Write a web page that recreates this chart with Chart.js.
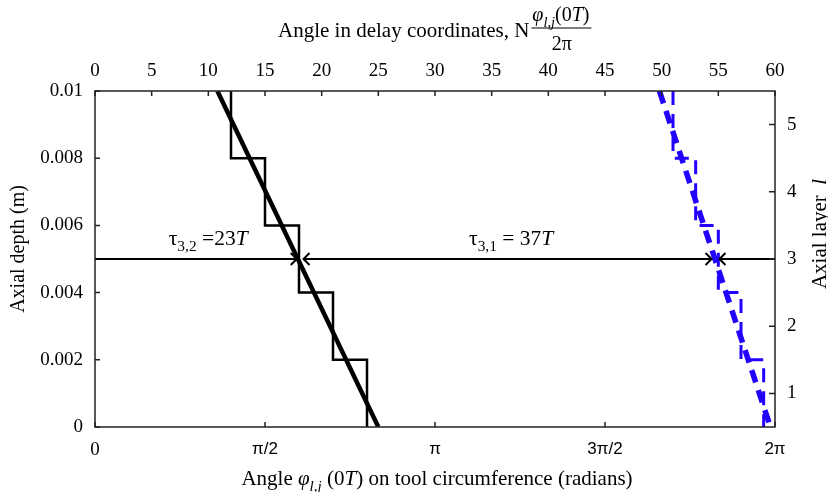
<!DOCTYPE html>
<html>
<head>
<meta charset="utf-8">
<script src="https://cdn.jsdelivr.net/npm/chart.js@4.4.1/dist/chart.umd.min.js"></script>
<style>
    html, body { margin: 0; padding: 0; background: #fff; }
    #wrap { width: 828px; height: 492px; }
</style>
</head>
<body>
<div id="wrap"><canvas id="chart" width="828" height="492"></canvas></div>
<script>
// ------------------------------------------------------------------
// Data
// ------------------------------------------------------------------

// layer boundaries, top to bottom (m)
const DEPTH_BREAKS = [0.01, 0.008, 0.006, 0.004, 0.002, 0];
// staircase angle per layer, delay coordinates
const STAIR_BLACK = [12, 15, 18, 21, 24];
const STAIR_BLUE = [51, 53, 55, 57, 59];
// straight fitted lines, ends at depth 0.01 and 0
const FIT_DEPTHS = [0.01, 0];
const FIT_BLACK = [10.8, 25.0];
const FIT_BLUE = [49.8, 59.6];

// delay arrows at layer 3
const ARROW_DEPTH = 0.005;
const ARROW_SEGMENTS = [[0, 17.8], [18.4, 54.4], [55.1, 60]];
const ARROW_TIPS = [17.8, 18.4, 54.4, 55.1];
const ARROW_DIRS = [1, -1, 1, -1];

const TOP_TICKS = [0, 5, 10, 15, 20, 25, 30, 35, 40, 45, 50, 55, 60];
const BOTTOM_TICKS = [0, Math.PI / 2, Math.PI, 3 * Math.PI / 2, 2 * Math.PI];
const BOTTOM_LABELS = ['0', 'π/2', 'π', '3π/2', '2π'];
const DEPTH_TICKS = [0, 0.002, 0.004, 0.006, 0.008, 0.01];
const LAYER_TICKS = [1, 2, 3, 4, 5];

const BLUE = '#2200ff';
const SERIF = '"Liberation Serif", "DejaVu Serif", serif';
const SANS = '"Liberation Sans", Arial, sans-serif';

// ------------------------------------------------------------------
// Helpers
// ------------------------------------------------------------------

function stair_points(stair) {
    const pts = [];
    stair.forEach((x, i) => {
        pts.push({ x, y: DEPTH_BREAKS[i] });
        pts.push({ x, y: DEPTH_BREAKS[i + 1] });
    });
    return pts;
}

function fit_points(xs) {
    return xs.map((x, i) => ({ x, y: FIT_DEPTHS[i] }));
}

function line_ds(data, color, width, dash) {
    return {
        data,
        borderColor: color,
        borderWidth: width,
        borderDash: dash || [],
        pointRadius: 0,
        fill: false,
        tension: 0,
        xAxisID: 'xTop',
        yAxisID: 'y',
    };
}

// draws pieces of text left to right: {t, italic, sub}
function draw_rich(ctx, x, y, parts, size) {
    let cx = x;
    parts.forEach(p => {
        const s = p.sub ? size * 0.72 : size;
        ctx.font = `${p.italic ? 'italic ' : ''}${s}px ${SERIF}`;
        ctx.fillText(p.t, cx, p.sub ? y + size * 0.28 : y);
        cx += ctx.measureText(p.t).width;
    });
    return cx - x;
}

function rich_width(ctx, parts, size) {
    let w = 0;
    parts.forEach(p => {
        const s = p.sub ? size * 0.72 : size;
        ctx.font = `${p.italic ? 'italic ' : ''}${s}px ${SERIF}`;
        w += ctx.measureText(p.t).width;
    });
    return w;
}

function fixed_size(prop, val) {
    return scale => { scale[prop] = val; };
}

// ------------------------------------------------------------------
// Plugin: frame, inward ticks, arrowheads, annotations and titles
// ------------------------------------------------------------------

const decorations = {
    id: 'decorations',
    afterDatasetsDraw(chart) {
        const ctx = chart.ctx;
        const a = chart.chartArea;
        const sx = chart.scales.xTop;
        const sb = chart.scales.x;
        const sy = chart.scales.y;
        const sl = chart.scales.yLayer;

        ctx.save();
        ctx.strokeStyle = '#222';
        ctx.lineWidth = 1.5;
        ctx.strokeRect(a.left, a.top, a.right - a.left, a.bottom - a.top);

        // inward tick marks
        ctx.beginPath();
        TOP_TICKS.forEach(v => {
            const px = sx.getPixelForValue(v);
            ctx.moveTo(px, a.top); ctx.lineTo(px, a.top + 5);
        });
        BOTTOM_TICKS.forEach(v => {
            const px = sb.getPixelForValue(v);
            ctx.moveTo(px, a.bottom); ctx.lineTo(px, a.bottom - 5);
        });
        DEPTH_TICKS.forEach(v => {
            const py = sy.getPixelForValue(v);
            ctx.moveTo(a.left, py); ctx.lineTo(a.left + 5, py);
        });
        LAYER_TICKS.forEach(v => {
            const py = sl.getPixelForValue(v);
            ctx.moveTo(a.right, py); ctx.lineTo(a.right - 6, py);
        });
        ctx.stroke();

        // arrow heads
        const ay = sy.getPixelForValue(ARROW_DEPTH);
        ctx.strokeStyle = '#000';
        ctx.lineWidth = 2;
        ARROW_TIPS.forEach((v, i) => {
            const px = sx.getPixelForValue(v);
            const d = ARROW_DIRS[i];
            ctx.beginPath();
            ctx.moveTo(px - d * 6, ay - 6);
            ctx.lineTo(px, ay);
            ctx.lineTo(px - d * 6, ay + 6);
            ctx.stroke();
        });

        // delay labels
        ctx.fillStyle = '#000';
        ctx.textBaseline = 'alphabetic';
        ctx.textAlign = 'left';
        draw_rich(ctx, sx.getPixelForValue(6.5), ay - 14, [
            { t: 'τ' }, { t: '3,2', sub: true }, { t: ' =23' }, { t: 'T', italic: true },
        ], 21.5);
        draw_rich(ctx, sx.getPixelForValue(33), ay - 14, [
            { t: 'τ' }, { t: '3,1', sub: true }, { t: ' = 37' }, { t: 'T', italic: true },
        ], 21.5);

        // top title with fraction
        const lead = [{ t: 'Angle in delay coordinates, N' }];
        const num = [{ t: 'φ', italic: true }, { t: 'l,j', italic: true, sub: true }, { t: '(0' }, { t: 'T', italic: true }, { t: ')' }];
        const wl = rich_width(ctx, lead, 21);
        const wn = rich_width(ctx, num, 20);
        const x0 = a.left + 183;
        draw_rich(ctx, x0, 37, lead, 21);
        const fx = x0 + wl + 2;
        draw_rich(ctx, fx + 1, 21, num, 20);
        ctx.lineWidth = 1.2;
        ctx.beginPath();
        ctx.moveTo(fx, 28); ctx.lineTo(fx + wn + 3, 28);
        ctx.stroke();
        ctx.font = `20px ${SERIF}`;
        ctx.textAlign = 'center';
        ctx.fillText('2π', fx + wn / 2 + 2, 50);

        // bottom title
        ctx.textAlign = 'left';
        const bottom = [
            { t: 'Angle ' }, { t: 'φ', italic: true }, { t: 'l,j', italic: true, sub: true },
            { t: ' (0' }, { t: 'T', italic: true }, { t: ') on tool circumference (radians)' },
        ];
        const wb = rich_width(ctx, bottom, 21);
        draw_rich(ctx, 437 - wb / 2, 485, bottom, 21);

        // left title
        ctx.save();
        ctx.translate(24, 249);
        ctx.rotate(-Math.PI / 2);
        ctx.font = `20px ${SERIF}`;
        ctx.textAlign = 'center';
        ctx.fillText('Axial depth (m)', 0, 0);
        ctx.restore();

        // right title
        ctx.save();
        ctx.translate(826, 234);
        ctx.rotate(-Math.PI / 2);
        const right = [{ t: 'Axial layer  ' }, { t: 'l', italic: true }];
        const wr = rich_width(ctx, right, 21);
        draw_rich(ctx, -wr / 2, 0, right, 21);
        ctx.restore();

        ctx.restore();
    },
};

// ------------------------------------------------------------------
// Chart
// ------------------------------------------------------------------

const tickFont = { family: SERIF, size: 19 };

const datasets = [
    ...ARROW_SEGMENTS.map(seg => line_ds(seg.map(x => ({ x, y: ARROW_DEPTH })), '#000', 2)),
    line_ds(stair_points(STAIR_BLACK), '#000', 2.5),
    line_ds(fit_points(FIT_BLACK), '#000', 4.5),
    line_ds(stair_points(STAIR_BLUE), BLUE, 3, [14, 9]),
    line_ds(fit_points(FIT_BLUE), BLUE, 5.5, [13, 8]),
];

const noGrid = { display: false, drawTicks: false, tickLength: 0 };

new Chart(document.getElementById('chart'), {
    type: 'line',
    data: { datasets },
    options: {
        responsive: false,
        animation: false,
        devicePixelRatio: 1,
        layout: { padding: 0 },
        scales: {
            xTop: {
                type: 'linear',
                position: 'top',
                min: 0, max: 60,
                afterBuildTicks: s => { s.ticks = TOP_TICKS.map(value => ({ value })); },
                afterFit: fixed_size('height', 91),
                grid: noGrid,
                border: { display: false },
                ticks: { font: tickFont, color: '#000', padding: 9, maxRotation: 0, autoSkip: false },
            },
            x: {
                type: 'linear',
                position: 'bottom',
                min: 0, max: 2 * Math.PI,
                afterBuildTicks: s => { s.ticks = BOTTOM_TICKS.map(value => ({ value })); },
                afterFit: fixed_size('height', 65),
                grid: noGrid,
                border: { display: false },
                ticks: {
                    font: c => (c.index === 0 ? tickFont : { family: SANS, size: 17 }),
                    color: '#000', padding: 12, maxRotation: 0, autoSkip: false,
                    callback: (v, i) => BOTTOM_LABELS[i],
                },
            },
            y: {
                type: 'linear',
                position: 'left',
                min: 0, max: 0.01,
                afterBuildTicks: s => { s.ticks = DEPTH_TICKS.map(value => ({ value })); },
                afterFit: fixed_size('width', 95),
                grid: noGrid,
                border: { display: false },
                ticks: { font: tickFont, color: '#000', padding: 12, callback: v => String(v) },
            },
            yLayer: {
                type: 'linear',
                position: 'right',
                min: 0.5, max: 5.5,
                afterBuildTicks: s => { s.ticks = LAYER_TICKS.map(value => ({ value })); },
                afterFit: fixed_size('width', 53),
                grid: noGrid,
                border: { display: false },
                ticks: { font: tickFont, color: '#000', padding: 12 },
            },
        },
        plugins: {
            legend: { display: false },
            tooltip: { enabled: false },
            title: { display: false },
        },
    },
    plugins: [decorations],
});
</script>
</body>
</html>
